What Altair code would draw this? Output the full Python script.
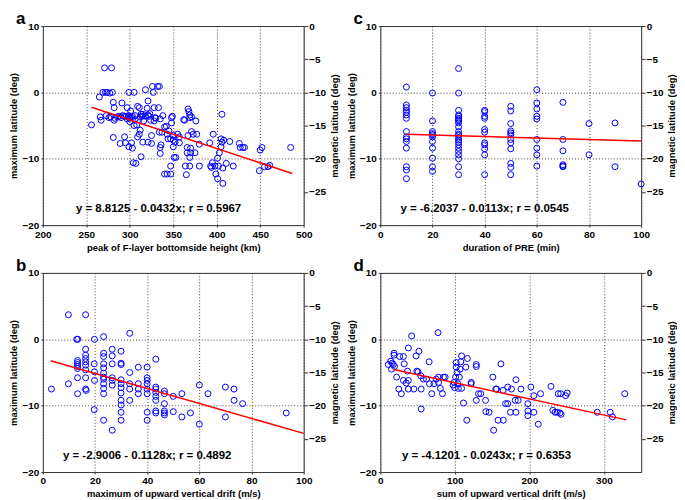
import altair as alt
import pandas as pd

# ---------------- data ----------------
a_points = [
    (256,-4.9),(271,3.7),(279,3.7),(265,-0.7),(269,0),(272,0),(274,0),(277,-0.1),(280,0),
    (266,-3.7),(267,-4.2),(273,-3.5),(276,-3.8),(278,-3.7),
    (281,-1.5),(282,-2.3),(281,-6.8),(282,-4.2),
    (286,-3.7),(291,-1.6),(289,-7.7),(294,-6.7),(295,-7.6),(296,-3.6),
    (297,-2.3),(299,-3.5),(299,-8.2),(299,0),(305,0),
    (301,-2.8),(302,-7.6),(303,-8.4),(302,-3.8),
    (304,-10.6),(307,-10.7),(306,-4.1),(305,-5.0),(308,-4.9),
    (309,-2.1),(311,-2.3),(309,-6.7),(311,-6.3),(312,-5.7),(313,-9.7),
    (313,-3.3),(314,-3.6),(315,-7.5),(316,-4.3),
    (318,0.4),(320,-2.4),(321,-1.3),(321,-3.4),(321,-7.5),(322,-3.6),
    (324,-4.2),(325,-6.5),(325,-7.7),(326,0.9),(327,0),(328,-2.3),
    (328,-4.3),(329,-3.8),(332,0.9),(334,0.9),(333,-2.3),
    (334,-6.0),(335,-8.3),(336,-7.9),(335,-9.2),(337,-6.0),
    (340,-12.3),(343,-12.3),(347,-12.3),(347,-11.1),(342,-5.1),
    (343,-6.3),(344,-7.0),(347,-7.0),(348,-3.8),(348,-4.6),(349,-3.6),
    (350,-6.5),(350,-7.2),(350,-8.2),(351,-9.8),(353,-9.8),(352,-7.5),
    (357,-6.7),(357,-7.6),(362,-4.1),(363,-4.2),
    (365,-12.4),(364,-11.1),(366,-8.3),(366,-9.1),(367,-6.5),
    (367,-2.5),(368,-2.9),(369,-3.4),(369,-3.8),(371,-3.7),
    (369,-11.1),(369,-9.8),(370,-8.4),(370,-9.1),
    (371,-5.9),(373,-6.3),(375,-9.1),(377,-6.3),(376,-4.3),
    (380,-7.8),(380,-11.1),
    (392,-7.6),(393,-11.1),(394,-11.3),(395,-10.6),(396,-6.3),
    (398,-11.1),(399,-12.3),(401,-9.9),(402,-11.1),(401,-13.0),
    (403,-9.1),(405,-7.0),(405,-8.2),(406,-7.5),(407,-11.4),(407,-13.7),
    (406,-3.3),(408,-7.2),(411,-10.7),(415,-7.4),(419,-11.1),
    (426,-7.7),(427,-8.3),(430,-8.3),(432,-8.3),
    (449,-11.8),(450,-8.7),(452,-8.3),
    (455,-11.2),(459,-11.2),(461,-11.0),
    (485,-8.3),
    (283,-3.9),(288,-3.6),(290,-3.8),(292,-3.5),(294,-3.6),(298,-3.7),(300,-3.9),
    (303,-3.6),(310,-4.1),(312,-3.7),(315,-3.3),(318,-3.6),(323,-3.2),(330,-3.9),
    (335,-4.0),(338,-3.5),(340,-5.2),(345,-5.8),(355,-6.3),(300,-4.4),(297,-4.0),(306,-3.5),
]
b_points = [
    (3.3,-7.5),(9.8,3.7),(16.4,3.7),(9.8,-6.7),(13.0,0),(13.4,0),
    (13.3,-3.2),(13.3,-3.5),(13.3,-3.8),(13.3,-4.1),(13.3,-4.4),(13.3,-5.8),(13.3,-8.2),
    (16.4,-1.5),(16.4,-2.4),(16.4,-2.9),(16.4,-3.4),(16.4,-3.9),(16.4,-4.6),(16.4,-5.8),
    (16.4,-7.5),(16.6,-7.7),
    (19.8,0),(19.7,-3.7),(19.8,-4.9),(19.8,-6.2),(19.7,-10.6),
    (23.3,0.4),(23.3,-2.1),(23.3,-2.6),(23.3,-3.7),(23.3,-4.3),(23.3,-5.1),(23.3,-5.7),
    (23.3,-6.0),(23.3,-6.7),(23.3,-7.4),(23.3,-8.2),(23.3,-12.2),
    (26.6,-1.5),(26.6,-2.5),(26.6,-3.7),(26.6,-5.8),(26.6,-6.2),(26.6,-6.9),(26.6,-13.7),
    (30,-1.8),(30,-3.6),(30,-3.8),(30,-6.1),(30,-6.7),(30,-7.3),(30,-8.1),(30,-9.2),
    (30,-9.9),(30,-11.0),(30,-12.2),
    (33.3,0.9),(33.3,-5.0),(33.3,-6.7),(33.3,-7.5),(33.3,-9.2),
    (36.6,-4.2),(36.6,-6.7),(36.6,-7.5),(36.6,-8.2),
    (40,-4.2),(40,-5.8),(40,-6.2),(40,-6.7),(40,-7.5),(40,-8.2),(40,-11.0),(40,-12.2),
    (43.3,-3.0),(43.3,-7.2),(43.3,-7.5),(43.3,-8.0),(43.3,-8.6),(43.3,-9.2),(43.3,-10.8),(43.3,-11.1),
    (46.6,-7.8),(46.6,-8.2),(46.6,-9.7),(46.6,-10.8),(46.6,-11.1),(46.6,-11.4),
    (50,-8.6),(50,-10.9),(53.3,-8.2),(53.3,-11.7),(56.6,-11.1),(60,-6.9),(60,-12.8),(63.3,-8.2),
    (70,-7.2),(70,-11.7),(73.3,-7.5),(73.3,-9.2),(76.6,-9.7),(93.3,-11.1),
]
c_points = (
    [(10, v) for v in [0.8,-1.9,-2.3,-2.7,-3.0,-3.4,-3.9,-5.9,-6.7,-7.0,-7.4,-8.4,-11.2,-11.7,-13.0]]
    + [(20, v) for v in [-0.1,-4.3,-5.9,-6.2,-6.4,-6.7,-7.4,-8.4,-9.9,-11.2,-11.9]]
    + [(30, v) for v in [3.6,-0.1,-2.7,-3.4,-3.6,-3.9,-4.1,-4.3,-4.6,-5.2,-5.9,-6.3,-6.5,-6.9,
                         -7.2,-7.5,-7.9,-8.4,-8.9,-9.4,-10.0,-11.2,-12.4]]
    + [(40, v) for v in [-2.7,-2.9,-3.6,-3.9,-5.6,-6.0,-7.6,-7.9,-8.5,-9.4,-12.4]]
    + [(50, v) for v in [-2.1,-2.8,-4.7,-5.8,-6.1,-6.4,-7.1,-7.6,-8.5,-10.7,-11.3,-12.4]]
    + [(60, v) for v in [0.4,-1.6,-2.5,-3.6,-4.0,-7.1,-8.4,-9.4,-11.1]]
    + [(70, v) for v in [-1.5,-7.1,-8.8,-10.9,-11.1,-11.2]]
    + [(80, v) for v in [-4.7,-9.4]]
    + [(90, v) for v in [-4.6,-11.2]]
    + [(100, v) for v in [-13.8]]
)
d_points = [
    (10.7,-3.8),(14,-3.3),(15,-4.5),(16,-3.6),(17.5,-3.8),(18.4,-2.1),(18.4,-2.4),(19,-4.1),
    (21.8,-5.7),(24.8,-7.5),(26,-2.6),(28.2,-8.2),(31,-2.6),(32,-3.7),(31,-6.2),(34.7,-6.6),
    (36.4,-4.8),(37.6,-1.3),(37.6,-6.2),(37.6,-7.5),
    (42,0.5),(45,-7.5),(48,-2.5),(49,-4.8),(50.5,-4.9),(51.8,-1.8),
    (54.3,-5.5),(54.8,-7.5),(54.8,-10.5),(57.8,-6.0),(62,-6.0),(65.5,-3.4),(66,-6.7),(69,-8.2),
    (72,-6.7),(75,-6.0),(77.4,1.0),(78,-6.5),(78,-5.7),(80.5,-7.4),(83.4,-8.2),(84.7,-5.7),(87,-5.7),
    (97.6,-6.9),(99,-6.5),(99.7,-7.3),(101,-5.7),(101.8,-3.5),(101.8,-4.2),(103,-5.0),(104,-6.7),
    (104.7,-7.4),(106,-5.7),(107,-4.5),(108,-3.4),(109,-2.5),(109,-7.4),(111.6,-9.6),(114.7,-4.2),
    (116.8,-2.9),(116,-12.2),(121.9,-6.7),(122,-6.5),
    (128.8,-3.8),(128.8,-4.1),(128.8,-9.2),(131.8,-8.2),(134.8,-8.2),(141.2,-9.2),(141.6,-10.9),
    (146,-11.0),(151,-5.7),(152,-13.7),
    (155,-7.5),(156,-7.5),(158,-12.2),(161.8,-3.7),(165,-12.2),(164.7,-7.7),(168,-9.7),(171,-9.7),
    (171,-7.2),(174.6,-11.0),(176,-7.5),(181,-9.2),(182,-11.0),(182,-6.1),(185,-9.2),(188.7,-7.5),
    (198,-9.7),(198,-10.8),(198,-11.5),(202,-7.2),(206,-11.0),(206,-8.5),(212,-12.8),(215,-8.2),
    (229,-7.1),(231.5,-10.7),(234.5,-11.0),(237.5,-11.0),(238.7,-8.2),(241,-11.1),(242,-8.2),
    (242.6,-11.3),(248.6,-8.5),(250.7,-8.1),
    (291,-11.0),(308.5,-11.0),(311.5,-11.7),(328,-8.2),
]

# regression line end points (from the printed fits)
a_line = [(256, -2.25), (487, -12.23)]
b_line = [(3, -3.24), (100, -14.18)]
c_line = [(10, -6.32), (100, -7.33)]
d_line = [(18, -4.56), (330, -12.14)]

a_eq = "y = 8.8125 - 0.0432x; r = 0.5967"
b_eq = "y = -2.9006 - 0.1128x; r = 0.4892"
c_eq = "y = -6.2037 - 0.0113x; r = 0.0545"
d_eq = "y = -4.1201 - 0.0243x; r = 0.6353"

x_titles = {
    "a": "peak of F-layer bottomside height (km)",
    "b": "maximum of upward vertical drift (m/s)",
    "c": "duration of PRE (min)",
    "d": "sum of upward vertical drift (m/s)",
}
left_ticks = [-20, -15, -10, -5, 0, 5, 10]
right_ticks = [-25, -20, -15, -10, -5, 0]

W, H = 262, 200
FONT = "Liberation Sans"


def panel(letter, points, line, xdom, xticks, eq, eq_pos):
    df = pd.DataFrame(points, columns=["x", "y"])
    ldf = pd.DataFrame(line, columns=["x", "y"])
    tdf = pd.DataFrame({"x": [eq_pos[0]], "y": [eq_pos[1]], "t": [eq]})
    xs = alt.Scale(domain=xdom, nice=False, zero=False)
    ys = alt.Scale(domain=[-20, 10], nice=False, zero=False)
    xenc = alt.X("x:Q", scale=xs,
                 axis=alt.Axis(values=xticks, title=x_titles[letter], format="d"))
    yenc = alt.Y("y:Q", scale=ys,
                 axis=alt.Axis(values=left_ticks, title="maximum latitude (deg)"))
    pts = alt.Chart(df).mark_point(shape="circle", filled=False, color="#0000ff",
                                   size=36, strokeWidth=1, opacity=1).encode(x=xenc, y=yenc)
    ln = alt.Chart(ldf).mark_line(color="#ff0000", strokeWidth=1.5).encode(x="x:Q", y="y:Q")
    txt = alt.Chart(tdf).mark_text(align="left", baseline="middle", font=FONT,
                                   fontWeight="bold", fontSize=11.5, color="black").encode(
        x="x:Q", y="y:Q", text="t:N")
    lab = alt.Chart(pd.DataFrame({"k": [letter]})).mark_text(
        align="left", baseline="alphabetic", font=FONT, fontWeight="bold",
        fontSize=17, color="black").encode(
        x=alt.value(-27), y=alt.value(-2), text="k:N")
    left = alt.layer(pts, ln, txt, lab)
    right = alt.Chart(pd.DataFrame({"m": [-30, 0]})).mark_point(opacity=0).encode(
        y=alt.Y("m:Q", scale=alt.Scale(domain=[-30, 0], nice=False, zero=False),
                axis=alt.Axis(orient="right", values=right_ticks,
                              title="magnetic latitude (deg)", titleAngle=270,
                              titleBaseline="top", titlePadding=4,
                              grid=False, tickSize=4, labelPadding=1)))
    return alt.layer(left, right).resolve_scale(y="independent").properties(width=W, height=H)


pa = panel("a", a_points, a_line, [200, 500], list(range(200, 501, 50)), a_eq, (238, -17.6))
pb = panel("b", b_points, b_line, [0, 100], list(range(0, 101, 20)), b_eq, (7.7, -17.6))
pc = panel("c", c_points, c_line, [0, 100], list(range(0, 101, 20)), c_eq, (7.7, -17.6))
pd_ = panel("d", d_points, d_line, [0, 350], list(range(0, 351, 50)), d_eq, (29, -17.6))

chart = alt.vconcat(
    alt.hconcat(pa, pc, spacing=6),
    alt.hconcat(pb, pd_, spacing=6),
    spacing=4,
).configure(
    padding=0,
    background="white",
).configure_view(
    stroke="#333", strokeWidth=1,
).configure_axis(
    labelFont=FONT, labelFontWeight="bold", labelFontSize=10, labelColor="black",
    titleFont=FONT, titleFontWeight="bold", titleFontSize=9.5, titleColor="black",
    gridColor="#444", gridDash=[1, 2], gridOpacity=1, gridWidth=1,
    domain=False, ticks=True, tickSize=2, tickColor="#333",
    labelPadding=2, titlePadding=3, labelFlush=False, labelOverlap=False,
)

chart.save("out.html", embed_options={"renderer": "svg", "actions": False})
